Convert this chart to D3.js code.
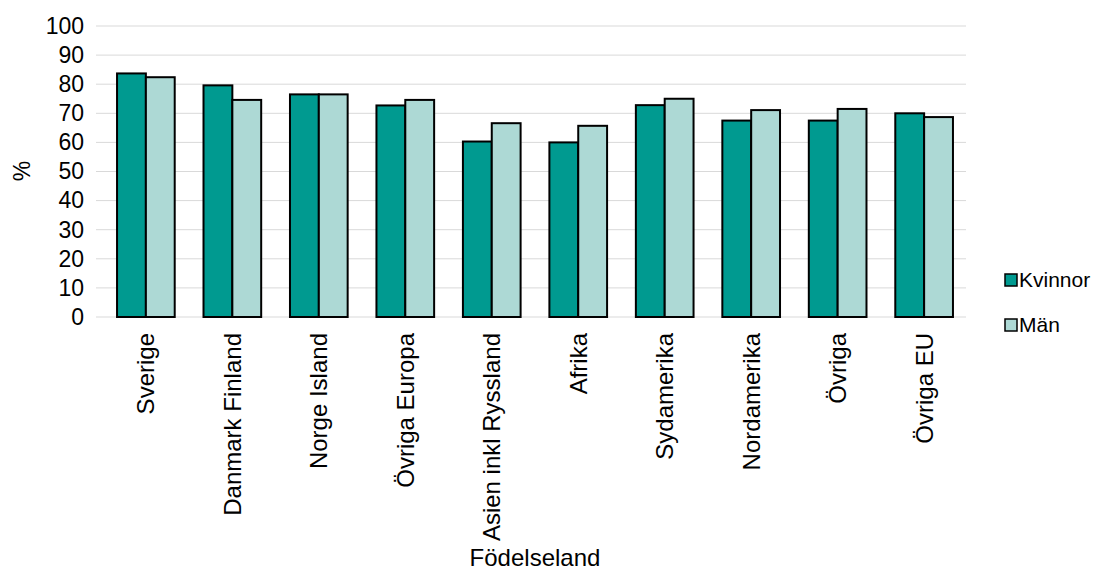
<!DOCTYPE html>
<html><head><meta charset="utf-8">
<script src="https://cdn.jsdelivr.net/npm/d3@7"></script>
<style>body{margin:0;background:#fff}svg{font-family:"Liberation Sans",Arial,sans-serif}</style>
</head><body><svg width="1107" height="572"></svg>
<script>
const categories = ["Sverige","Danmark Finland","Norge Island","Övriga Europa","Asien inkl Ryssland","Afrika","Sydamerika","Nordamerika","Övriga","Övriga EU"];
const seriesNames = ["Kvinnor","Män"];
const kvinnor = [83.7,79.6,76.5,72.7,60.3,60.0,72.8,67.5,67.5,70.0];
const man = [82.4,74.6,76.5,74.6,66.6,65.7,75.0,71.1,71.5,68.7];
const yTicks = [0,10,20,30,40,50,60,70,80,90,100];
const colors = ["#009A90","#ADD9D5"];

const svg = d3.select("svg");
const W = 1107;
const gridL = 96, gridR = 966, yTop = 26, yBot = 317;
const x = d3.scaleBand().domain(categories).range([103.2, 966.8]).paddingInner(0.333).paddingOuter(0.16);
const x1 = d3.scaleBand().domain(seriesNames).range([0, x.bandwidth()]);
const y = d3.scaleLinear().domain([0,100]).range([yBot, yTop]);

svg.append("g").selectAll("line").data(yTicks).join("line")
  .attr("x1", gridL).attr("x2", gridR).attr("y1", d=>y(d)).attr("y2", d=>y(d))
  .attr("stroke","#d9d9d9").attr("stroke-width",1);

const yAxis = svg.append("g").attr("transform",`translate(${gridL},0)`)
  .call(d3.axisLeft(y).tickValues(yTicks).tickSize(0).tickPadding(12));
yAxis.select(".domain").remove();
yAxis.selectAll("text").attr("font-size",23).attr("fill","#000").attr("font-family","Liberation Sans, Arial, sans-serif");

const data = categories.map((c,i)=>({c, vals:[kvinnor[i], man[i]]}));
const g = svg.append("g");
data.forEach(d=>{
  d.vals.forEach((v,j)=>{
    g.append("rect")
      .attr("x", x(d.c)+x1(seriesNames[j]))
      .attr("y", y(v)).attr("width", x1.bandwidth()).attr("height", y(0)-y(v))
      .attr("fill", colors[j]).attr("stroke","#000").attr("stroke-width",2);
  });
});

const xAxis = svg.append("g").attr("transform",`translate(0,${y(0)})`)
  .call(d3.axisBottom(x).tickSize(0).tickPadding(0));
xAxis.select(".domain").remove();
xAxis.selectAll("text")
  .attr("font-size",24).attr("fill","#000").attr("font-family","Liberation Sans, Arial, sans-serif")
  .attr("text-anchor","end").attr("dy","0.35em")
  .attr("transform","translate(0,16) rotate(-90)").attr("x",0).attr("y",0);

svg.append("text").attr("x", 535).attr("y", 566).attr("text-anchor","middle")
  .attr("font-size",24).text("Födelseland");
svg.append("text").attr("transform","translate(30,171) rotate(-90)").attr("text-anchor","middle")
  .attr("font-size",23).text("%");

const leg = svg.append("g");
seriesNames.forEach((s,i)=>{
  const yy = 280 + i*45;
  leg.append("rect").attr("x",1005).attr("y",yy-6).attr("width",12).attr("height",12)
    .attr("fill",colors[i]).attr("stroke","#000").attr("stroke-width",1.5);
  leg.append("text").attr("x",1019).attr("y",yy).attr("dy","0.35em").attr("font-size",21).text(s);
});
</script></body></html>
